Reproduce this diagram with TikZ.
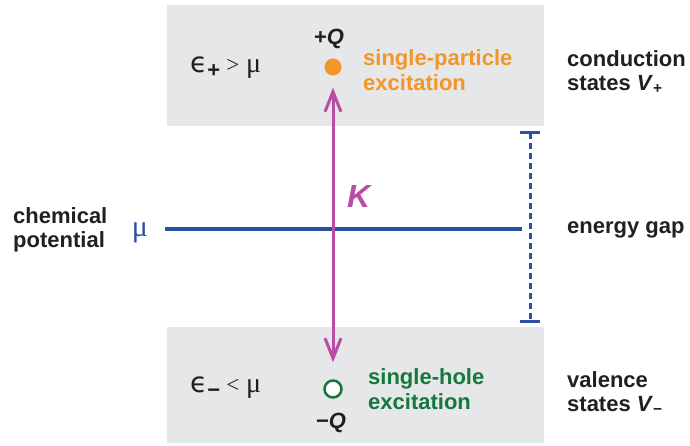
\documentclass[tikz,border=0pt]{standalone}
\usepackage{fontspec}
\setmainfont{Liberation Sans}
\newfontfamily\greekserif{Liberation Serif}
\newfontfamily\greeksans{DejaVu Sans}
\definecolor{bandgray}{RGB}{230,231,232}
\definecolor{levelblue}{RGB}{44,80,160}
\definecolor{kmagenta}{RGB}{186,76,166}
\definecolor{partorange}{RGB}{242,150,40}
\definecolor{holegreen}{RGB}{22,120,60}
\definecolor{inkblack}{RGB}{35,31,32}
\usetikzlibrary{positioning, arrows.meta}

\begin{document}
\begin{tikzpicture}[x=1pt, y=1pt,
    band/.style={fill=bandgray, draw=none, inner sep=0pt, anchor=south west,
      minimum width=377pt},
    sidetext/.style={font=\fontsize{22}{24.5}\selectfont\bfseries, text=inkblack,
      align=left, inner sep=0pt, anchor=west},
    exctext/.style={sidetext, font=\fontsize{22}{25}\selectfont\bfseries},
    energy/.style={font=\fontsize{22}{24}\selectfont, text=inkblack, inner sep=0pt, anchor=west},
    charge/.style={font=\fontsize{22}{24}\selectfont\bfseries, text=inkblack, inner sep=0pt},
  ]
  \useasboundingbox (0,0) rectangle (690,445);

  % bands
  \node[band, minimum height=121pt] (cband) at (167,319) {};
  \node[band, minimum height=116pt] (vband) at (167,2) {};

  % chemical potential
  \coordinate (muL) at (165,216.5);
  \coordinate (muR) at (522,216.5);
  \draw[levelblue, line width=4pt] (muL) -- (muR);
  \node[font=\fontsize{30}{30}\greekserif, text=levelblue, inner sep=0pt] (mu) at (140,212) {μ};
  \node[sidetext] (chem) at (13,215) {chemical\\potential};

  % energy gap
  \coordinate (gapT) at (530,314);
  \coordinate (gapB) at (530,122);
  \draw[{Bar[width=20pt]}-{Bar[width=20pt]}, levelblue, line width=3pt,
    dash pattern=on 6pt off 4pt] (gapT) -- (gapB);
  \node[sidetext, anchor=base west] (gap) at (567,212) {energy gap};

  % states
  \node[sidetext] (cond) at (567,373) {conduction\\states \textit{V}\textsubscript{+}};
  \node[sidetext] (val) at (567,52) {valence\\states \textit{V}\textsubscript{\textbf{−}}};

  % energies
  \node[energy] (eplus) at (190,377)
    {{\fontsize{28}{28}\selectfont\greeksans ϵ}\raisebox{-5pt}{\fontsize{22}{22}\selectfont\bfseries +}\hspace{6pt}%
     {\greekserif\fontsize{23}{23}\selectfont >}\hspace{7pt}{\greekserif\fontsize{28}{28}\selectfont μ}};
  \node[energy] (eminus) at (190,57)
    {{\fontsize{28}{28}\selectfont\greeksans ϵ}\raisebox{-5pt}{\fontsize{22}{22}\selectfont\bfseries −}\hspace{6pt}%
     {\greekserif\fontsize{23}{23}\selectfont <}\hspace{7pt}{\greekserif\fontsize{28}{28}\selectfont μ}};

  % particle and hole
  \node[circle, fill=partorange, minimum size=17pt, inner sep=0pt] (particle) at (333,378) {};
  \node[circle, draw=holegreen, line width=2.5pt, fill=white, minimum size=17pt, inner sep=0pt] (hole) at (333,56) {};
  \node[charge, anchor=base] (plusq) at (329,400) {+\textit{Q}};
  \node[charge, anchor=base] (minusq) at (331,17) {−\textit{Q}};
  \node[exctext, text=partorange] (partlabel) at (363,375) {single-particle\\excitation};
  \node[exctext, text=holegreen] (holelabel) at (368,55.5) {single-hole\\excitation};

  % excitation K
  \draw[kmagenta, line width=3pt, {Straight Barb[length=20pt,width=16pt]}-{Straight Barb[length=20pt,width=16pt]},
    shorten <=17pt, shorten >=12pt] (hole) -- (particle);
  \node[font=\fontsize{32}{32}\selectfont\bfseries\itshape, text=kmagenta, inner sep=0pt,
    anchor=base west] (kay) at (347,237) {K};
\end{tikzpicture}
\end{document}
